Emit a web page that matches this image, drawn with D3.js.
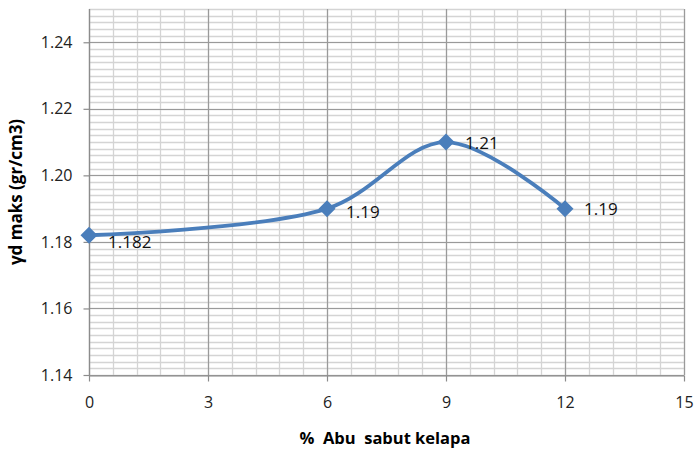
<!DOCTYPE html>
<html>
<head>
<meta charset="utf-8">
<script src="https://cdn.jsdelivr.net/npm/d3@7"></script>
<style>
  html, body { margin: 0; padding: 0; background: #fff; }
  svg { display: block; font-family: "Open Sans", "Liberation Sans", sans-serif; }
</style>
</head>
<body>
<svg id="chart" width="696" height="453"></svg>
<script>
// Abu sabut kelapa content (%) versus maximum dry density
const abuPercent = [0, 6, 9, 12];
const gammaDMax = [1.182, 1.19, 1.21, 1.19];
const valueLabels = ["1.182", "1.19", "1.21", "1.19"];
const xTicks = [0, 3, 6, 9, 12, 15];
const yTicks = [1.14, 1.16, 1.18, 1.20, 1.22, 1.24];
const yTickLabels = ["1.14", "1.16", "1.18", "1.20", "1.22", "1.24"];

const svg = d3.select("#chart");
const plotL = 89, plotR = 684, plotT = 9, plotB = 375;

const x = d3.scaleLinear().domain([0, 15]).range([plotL, plotR]);
const y = d3.scaleLinear().domain([1.14, 1.25]).range([plotB, plotT]);

// minor grid
const minorX = d3.range(0, 15.0001, 0.6);
const minorY = d3.range(1.14, 1.2501, 0.002);
const grid = svg.append("g");
grid.selectAll(".mx").data(minorX).join("line")
  .attr("x1", d => Math.round(x(d)) + 0.5).attr("x2", d => Math.round(x(d)) + 0.5)
  .attr("y1", plotT).attr("y2", plotB)
  .attr("stroke", "#d4d4d4").attr("stroke-width", 1.3);
grid.selectAll(".my").data(minorY).join("line")
  .attr("x1", plotL).attr("x2", plotR)
  .attr("y1", d => Math.round(y(d)) + 0.5).attr("y2", d => Math.round(y(d)) + 0.5)
  .attr("stroke", "#d4d4d4").attr("stroke-width", 1.3);

// major grid
grid.selectAll(".Mx").data(xTicks).join("line")
  .attr("x1", d => Math.round(x(d)) + 0.5).attr("x2", d => Math.round(x(d)) + 0.5)
  .attr("y1", plotT).attr("y2", plotB)
  .attr("stroke", "#9a9a9a").attr("stroke-width", 1.2);
grid.selectAll(".My").data(yTicks).join("line")
  .attr("x1", plotL).attr("x2", plotR)
  .attr("y1", d => Math.round(y(d)) + 0.5).attr("y2", d => Math.round(y(d)) + 0.5)
  .attr("stroke", "#9a9a9a").attr("stroke-width", 1.2);

// axes
const xAxis = svg.append("g")
  .attr("transform", `translate(0,${plotB + 0.5})`)
  .call(d3.axisBottom(x).tickValues(xTicks).tickSize(6).tickPadding(15).tickSizeOuter(0));
const yAxis = svg.append("g")
  .attr("transform", `translate(${plotL + 0.5},0)`)
  .call(d3.axisLeft(y).tickValues(yTicks).tickFormat((d, i) => yTickLabels[i])
    .tickSize(6).tickPadding(11).tickSizeOuter(0));
[xAxis, yAxis].forEach(a => {
  a.select(".domain").attr("stroke", "#8c8c8c").attr("stroke-width", 1.2);
  a.selectAll(".tick line").attr("stroke", "#8c8c8c").attr("stroke-width", 1.2);
  a.selectAll("text").attr("font-size", 16).attr("fill", "#222")
    .attr("font-family", "'Open Sans', sans-serif");
});
yAxis.select(".domain").attr("d", `M0,${plotT}V${plotB}`);

// series line
const pts = abuPercent.map((v, i) => [v, gammaDMax[i]]);
svg.append("path")
  .datum(pts)
  .attr("fill", "none")
  .attr("stroke", "#4a7ebb")
  .attr("stroke-width", 3.8)
  .attr("stroke-linejoin", "round")
  .attr("d", d3.line().x(d => x(d[0])).y(d => y(d[1])).curve(d3.curveCatmullRom.alpha(0.5)));

// diamond markers
svg.selectAll(".mk").data(pts).join("path")
  .attr("transform", d => `translate(${x(d[0])},${y(d[1])})`)
  .attr("d", "M0,-8.5L8.5,0L0,8.5L-8.5,0Z")
  .attr("fill", "#4a7ebb");

// value labels
const labelDy = [7, 3, 1, 0];
svg.selectAll(".vl").data(pts).join("text")
  .attr("x", d => x(d[0]) + 19)
  .attr("y", (d, i) => y(d[1]) + labelDy[i])
  .attr("dy", "0.35em")
  .attr("font-size", 17)
  .attr("fill", "#111")
  .text((d, i) => valueLabels[i]);

// axis titles
svg.append("text")
  .attr("x", 385).attr("y", 444)
  .attr("text-anchor", "middle")
  .attr("font-size", 16.5).attr("font-weight", "bold")
  .attr("xml:space", "preserve")
  .text("%  Abu  sabut kelapa");
svg.append("text")
  .attr("transform", `translate(22,${(plotT + plotB) / 2}) rotate(-90)`)
  .attr("text-anchor", "middle")
  .attr("font-size", 17).attr("font-weight", "bold")
  .text("γd maks (gr/cm3)");
</script>
</body>
</html>
